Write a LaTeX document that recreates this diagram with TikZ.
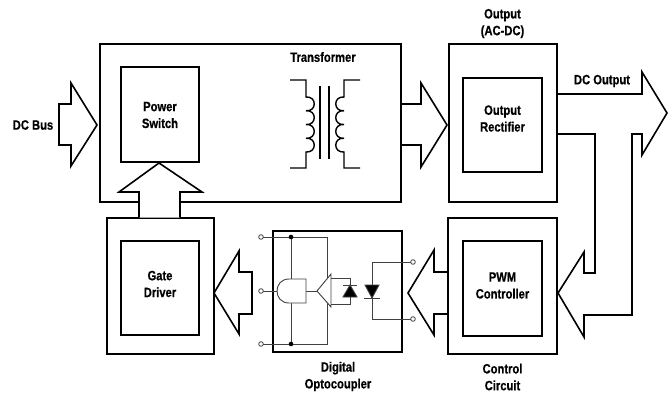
\documentclass[tikz,border=0pt]{standalone}
\usepackage{fontspec}
\setmainfont[FakeStretch=0.83, BoldFeatures={FakeBold=0.6}]{Liberation Sans}
\begin{document}
\begin{tikzpicture}[x=1pt,y=-1pt,
  box/.style={draw, line width=1.6pt, inner sep=0pt},
  lbl/.style={font=\fontsize{13.5}{16.8}\selectfont\bfseries, align=center, inner sep=0pt},
  blk/.style={draw, line width=1.6pt, fill=white, line join=miter},
  thinl/.style={draw=black!75, line width=0.9pt},
  coil/.style={draw, line width=1.4pt},
  pin/.style={circle, draw=black!75, line width=0.8pt, fill=white, inner sep=0pt, minimum size=4.6pt},
  jdot/.style={circle, fill=black, inner sep=0pt, minimum size=4.6pt}]
\useasboundingbox (0,0) rectangle (672,394);
% boxes
\node[box, minimum width=301pt, minimum height=158pt] (mainb) at (250.5,123) {};
\node[box, minimum width=78pt, minimum height=95pt] (ps) at (160,114.5) {};
\node[box, minimum width=108pt, minimum height=158pt] (outb) at (503,123) {};
\node[box, minimum width=79pt, minimum height=94pt] (rect) at (502.5,125) {};
\node[box, minimum width=107pt, minimum height=136pt] (gd) at (160.5,286) {};
\node[box, minimum width=78pt, minimum height=94pt] (gdi) at (160,288) {};
\node[box, minimum width=129pt, minimum height=121pt] (opto) at (337.5,291.5) {};
\node[box, minimum width=109pt, minimum height=136pt] (pwm) at (502.5,286) {};
\node[box, minimum width=79pt, minimum height=95pt] (pwmi) at (502.5,288.5) {};
% labels
\node[lbl] (tps) at (160,115) {Power\\Switch};
\node[lbl] (trect) at (502.5,118.5) {Output\\Rectifier};
\node[lbl] (tgd) at (160,284) {Gate\\Driver};
\node[lbl] (tpwm) at (502.5,285.5) {PWM\\Controller};
\node[lbl] (topto) at (338,376.5) {Digital\\Optocoupler};
\node[lbl] (tctl) at (502.5,377) {Control\\Circuit};
\node[lbl] (tout) at (502.5,23.5) {Output\\(AC-DC)};
\node[lbl] (tdco) at (602,81) {DC Output};
\node[lbl] (tbus) at (33,125) {DC Bus};
\node[lbl] (ttr) at (323,57) {Transformer};
% block arrows
\draw[blk] (59,104) -- (71,104) -- (71,83) -- (97,125) -- (71,166) -- (71,145) -- (59,145) -- cycle;
\draw[blk, fill=none] (401,104) -- (421,104) -- (421,83) -- (447,125) -- (421,167) -- (421,145) -- (401,145);
\draw[blk] (139,217.5) -- (139,192) -- (119,192) -- (159,163) -- (202,192) -- (180,192) -- (180,217.5);
\draw[blk] (252,272) -- (239,272) -- (239,251) -- (214,293) -- (239,334) -- (239,314) -- (252,314) -- cycle;
\draw[blk, fill=none] (448,272) -- (434,272) -- (434,250) -- (408,293) -- (434,335) -- (434,314) -- (448,314);
\draw[blk, fill=none] (557,94) -- (642,94) -- (642,72) -- (667,113) -- (642,155) -- (642,134) -- (632,134) -- (632,315) -- (584,315) -- (584,337) -- (558,293) -- (584,252) -- (584,273) -- (595,273) -- (595,134) -- (557,134);
% transformer
\draw[coil] (290,80) -- (306,80) -- (306,97)
  .. controls (317,96) and (317,111.75) .. (306,110.75)
  .. controls (317,109.75) and (317,125.5) .. (306,124.5)
  .. controls (317,123.5) and (317,139.25) .. (306,138.25)
  .. controls (317,137.25) and (317,153) .. (306,152)
  -- (306,168) -- (290,168);
\draw[coil] (360,80) -- (344,80) -- (344,97)
  .. controls (333,96) and (333,111.75) .. (344,110.75)
  .. controls (333,109.75) and (333,125.5) .. (344,124.5)
  .. controls (333,123.5) and (333,139.25) .. (344,138.25)
  .. controls (333,137.25) and (333,153) .. (344,152)
  -- (344,168) -- (360,168);
\draw[coil] (320,86) -- (320,159);
\draw[coil] (329,86) -- (329,159);
% optocoupler internals
\draw[thinl] (263,237) -- (327,237) -- (327,344) -- (263,344);
\draw[thinl] (291,237) -- (291,344);
\draw[thinl] (263,291) -- (277,291);
\draw[thinl] (306,291) -- (317,291);
\draw[thinl, fill=white] (306,279) -- (289,279) .. controls (273,279) and (273,303) .. (289,303) -- (306,303) -- cycle;
\draw[thinl, fill=white] (317,291) -- (331,274) -- (331,307) -- cycle;
\draw[thinl] (331,278) -- (350,278) -- (350,304) -- (331,304);
\draw[thinl, fill=black] (343,297) -- (357,297) -- (350,285) -- cycle;
\draw[thinl] (343,285) -- (357,285);
\draw[thinl] (411,262) -- (372,262) -- (372,319) -- (411,319);
\draw[thinl, fill=black] (365,285) -- (379,285) -- (372,298) -- cycle;
\draw[thinl] (364,298) -- (380,298);
\node[jdot] (j1) at (291,237) {};
\node[jdot] (j2) at (291,344) {};
\node[pin] (p1) at (261,237) {};
\node[pin] (p2) at (261,291) {};
\node[pin] (p3) at (261,344) {};
\node[pin] (p4) at (413,262) {};
\node[pin] (p5) at (413,319) {};
\end{tikzpicture}
\end{document}
